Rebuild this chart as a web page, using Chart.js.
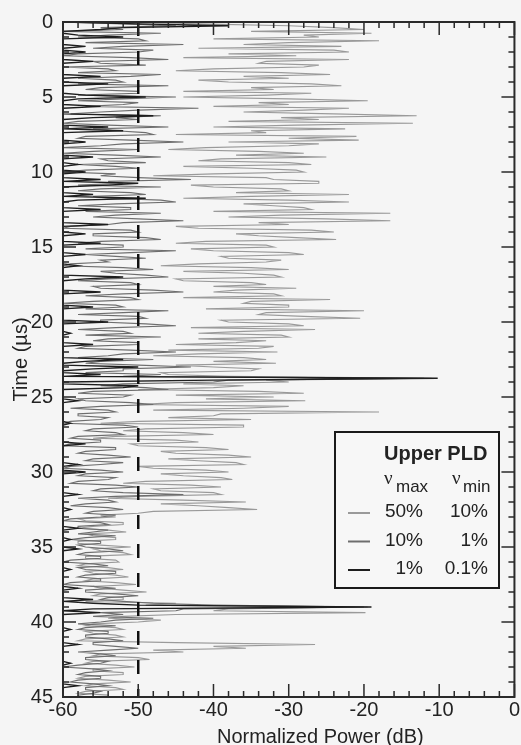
<!DOCTYPE html>
<html>
<head>
<meta charset="utf-8">
<script src="https://cdn.jsdelivr.net/npm/chart.js@4"></script>
<style>
  html, body { margin: 0; padding: 0; background: #f5f5f5; }
  #wrap { width: 521px; height: 745px; }
</style>
</head>
<body>
<div id="wrap"><canvas id="pldChart" width="521" height="745"></canvas></div>
<script>
// Czas (µs) - wspólny dla wszystkich trzech przebiegów (co 0.125 µs)
const times = [
  0, 0.125, 0.25, 0.375, 0.5, 0.625, 0.75, 0.875,
  1, 1.125, 1.25, 1.375, 1.5, 1.625, 1.75, 1.875,
  2, 2.125, 2.25, 2.375, 2.5, 2.625, 2.75, 2.875,
  3, 3.125, 3.25, 3.375, 3.5, 3.625, 3.75, 3.875,
  4, 4.125, 4.25, 4.375, 4.5, 4.625, 4.75, 4.875,
  5, 5.125, 5.25, 5.375, 5.5, 5.625, 5.75, 5.875,
  6, 6.125, 6.25, 6.375, 6.5, 6.625, 6.75, 6.875,
  7, 7.125, 7.25, 7.375, 7.5, 7.625, 7.75, 7.875,
  8, 8.125, 8.25, 8.375, 8.5, 8.625, 8.75, 8.875,
  9, 9.125, 9.25, 9.375, 9.5, 9.625, 9.75, 9.875,
  10, 10.125, 10.25, 10.375, 10.5, 10.625, 10.75, 10.875,
  11, 11.125, 11.25, 11.375, 11.5, 11.625, 11.75, 11.875,
  12, 12.125, 12.25, 12.375, 12.5, 12.625, 12.75, 12.875,
  13, 13.125, 13.25, 13.375, 13.5, 13.625, 13.75, 13.875,
  14, 14.125, 14.25, 14.375, 14.5, 14.625, 14.75, 14.875,
  15, 15.125, 15.25, 15.375, 15.5, 15.625, 15.75, 15.875,
  16, 16.125, 16.25, 16.375, 16.5, 16.625, 16.75, 16.875,
  17, 17.125, 17.25, 17.375, 17.5, 17.625, 17.75, 17.875,
  18, 18.125, 18.25, 18.375, 18.5, 18.625, 18.75, 18.875,
  19, 19.125, 19.25, 19.375, 19.5, 19.625, 19.75, 19.875,
  20, 20.125, 20.25, 20.375, 20.5, 20.625, 20.75, 20.875,
  21, 21.125, 21.25, 21.375, 21.5, 21.625, 21.75, 21.875,
  22, 22.125, 22.25, 22.375, 22.5, 22.625, 22.75, 22.875,
  23, 23.125, 23.25, 23.375, 23.5, 23.625, 23.75, 23.875,
  24, 24.125, 24.25, 24.375, 24.5, 24.625, 24.75, 24.875,
  25, 25.125, 25.25, 25.375, 25.5, 25.625, 25.75, 25.875,
  26, 26.125, 26.25, 26.375, 26.5, 26.625, 26.75, 26.875,
  27, 27.125, 27.25, 27.375, 27.5, 27.625, 27.75, 27.875,
  28, 28.125, 28.25, 28.375, 28.5, 28.625, 28.75, 28.875,
  29, 29.125, 29.25, 29.375, 29.5, 29.625, 29.75, 29.875,
  30, 30.125, 30.25, 30.375, 30.5, 30.625, 30.75, 30.875,
  31, 31.125, 31.25, 31.375, 31.5, 31.625, 31.75, 31.875,
  32, 32.125, 32.25, 32.375, 32.5, 32.625, 32.75, 32.875,
  33, 33.125, 33.25, 33.375, 33.5, 33.625, 33.75, 33.875,
  34, 34.125, 34.25, 34.375, 34.5, 34.625, 34.75, 34.875,
  35, 35.125, 35.25, 35.375, 35.5, 35.625, 35.75, 35.875,
  36, 36.125, 36.25, 36.375, 36.5, 36.625, 36.75, 36.875,
  37, 37.125, 37.25, 37.375, 37.5, 37.625, 37.75, 37.875,
  38, 38.125, 38.25, 38.375, 38.5, 38.625, 38.75, 38.875,
  39, 39.125, 39.25, 39.375, 39.5, 39.625, 39.75, 39.875,
  40, 40.125, 40.25, 40.375, 40.5, 40.625, 40.75, 40.875,
  41, 41.125, 41.25, 41.375, 41.5, 41.625, 41.75, 41.875,
  42, 42.125, 42.25, 42.375, 42.5, 42.625, 42.75, 42.875,
  43, 43.125, 43.25, 43.375, 43.5, 43.625, 43.75, 43.875,
  44, 44.125, 44.25, 44.375, 44.5, 44.625, 44.75, 44.875,
  45
];

// Moc znormalizowana (dB): vmax 50%, vmin 10%
const power50 = [
  -50, -42, -30, -24, -20, -35, -19, -28,
  -26, -40, -18, -30, -36, -23, -42, -24,
  -22, -38, -29, -44, -22, -33, -34, -26,
  -28, -40, -45, -31, -24.5, -36, -30, -42,
  -38, -27, -23, -35, -32, -44, -27, -33,
  -44, -30, -19.5, -34, -30, -40, -22, -28,
  -36, -24, -13, -31, -26, -38, -13.5, -29,
  -40, -22.5, -35, -33, -45, -21, -30, -20.7,
  -38, -26, -30, -41, -46, -34, -28, -37,
  -25, -39, -42, -30, -27, -44, -35, -29,
  -28, -40, -48, -33, -32, -26, -26, -43,
  -40, -31, -30, -37, -22, -35, -44, -30,
  -22, -36, -32, -28, -27, -40, -16.5, -31,
  -38, -25, -16.5, -34, -30, -45, -42, -27,
  -24, -37, -34, -29, -23.7, -41, -45, -33,
  -32, -43, -40, -30, -28, -39, -38, -31,
  -33, -42, -47, -35, -30, -44, -36, -32,
  -31, -45, -44, -35, -33, -40, -29, -37,
  -40, -32, -31, -44, -24.5, -35, -36, -30,
  -30, -41, -20, -33, -34, -28, -20.5, -39,
  -38, -30, -28, -43, -26.5, -36, -42, -31,
  -30, -42, -33, -37, -45, -32, -34, -46,
  -31.5, -42, -48, -36, -33, -40, -31.7, -45,
  -40, -34, -35, -47, -46, -38, -11, -33,
  -30, -44, -36, -40, -50, -34, -28, -45,
  -32, -41, -27.8, -45, -50, -30, -36, -48,
  -18, -39, -40, -46, -35, -50, -55, -36,
  -36, -49, -52, -44, -40, -53, -56, -45,
  -42, -51, -50, -41, -38, -47, -45, -38,
  -35, -46, -42, -37, -36, -50, -48, -41,
  -38, -47, -44, -39, -37.5, -49, -52, -43,
  -39, -48, -47, -40, -39, -50, -54, -44,
  -35.7, -47, -42, -38, -34.2, -48, -50, -55,
  -53, -58, -57, -52, -52, -56, -58, -54,
  -51.6, -57, -56, -53, -53, -58, -58, -55,
  -51, -56, -55, -52, -51, -57, -57, -53,
  -52.6, -57, -58, -54, -52, -57, -56, -53,
  -51.3, -56, -57, -53, -50.3, -56, -55, -52,
  -48.9, -55, -56, -52, -52, -57, -45, -49,
  -19.5, -38, -40, -19.8, -45, -52, -54, -47,
  -50, -56, -57, -53, -52, -57, -56, -53,
  -52, -57, -58, -45, -26.5, -40, -35.7, -48,
  -44, -55, -56, -50, -48.5, -56, -57, -53,
  -50.5, -56, -56, -52, -52, -57, -58, -54,
  -51, -56, -57, -53, -52, -57, -58, -54,
  -54
];

// vmax 10%, vmin 1%
const power10 = [
  -60, -52, -45, -55, -52, -60, -47, -54,
  -58, -50, -49, -57, -44, -52, -56, -48,
  -50, -58, -60, -51, -46, -56, -55, -49,
  -60, -54, -53, -58, -47, -51, -58, -53,
  -52, -58, -46, -55, -57, -50, -50, -58,
  -45, -52, -58, -50, -52, -57, -42, -50,
  -55, -59, -47, -53, -50, -58, -60, -54,
  -46, -56, -53, -49, -48, -57, -58, -51,
  -44, -52, -55, -60, -50, -56, -60, -53,
  -47, -55, -54, -49, -58, -53, -50, -57,
  -60, -53, -55, -50, -43, -54, -52, -58,
  -47, -55, -58, -51, -49, -56, -54, -47,
  -45, -53, -58, -51, -51, -57, -47, -53,
  -56, -50, -44, -52, -54, -59, -60, -51,
  -50, -56, -56, -49, -47, -55, -58, -52,
  -52, -57, -45, -51, -57, -53, -49, -55,
  -54, -59, -60, -52, -48, -55, -53, -49,
  -46, -54, -58, -51, -50, -56, -55, -48,
  -44, -52, -57, -51, -50, -56, -60, -53,
  -52, -57, -46, -52, -58, -50, -49, -55,
  -55, -49, -45, -53, -58, -52, -51, -57,
  -47, -54, -56, -50, -50, -57, -58, -51,
  -45, -52, -54, -58, -48, -55, -57, -50,
  -43, -52, -52, -57, -47, -52, -12, -38,
  -40, -52, -55, -49, -46, -56, -58, -51,
  -52, -58, -57, -51, -48, -55, -59, -54,
  -53, -58, -58, -54, -55, -59, -60, -52,
  -50, -56, -57, -53, -52, -58, -59, -55,
  -55, -59, -60, -53, -53, -57, -58, -54,
  -51, -56, -57, -52, -55, -59, -60, -55,
  -52, -57, -58, -53, -54, -58, -59, -53,
  -50, -55, -56, -52, -44, -53, -58, -54,
  -53, -57, -59, -54, -52, -56, -57, -53,
  -55, -59, -60, -55, -54, -58, -58, -54,
  -56, -58, -53, -57, -59, -55, -55, -58,
  -57, -54, -52, -57, -58, -55, -55, -59,
  -60, -56, -54, -58, -57, -53, -53, -57,
  -58, -55, -55, -59, -60, -56, -53, -57,
  -57, -53, -50, -54, -55, -52, -48, -40,
  -20, -44, -45, -55, -52, -56, -48, -53,
  -55, -58, -53, -57, -58, -54, -54, -57,
  -57, -54, -52, -56, -56, -53, -50, -54,
  -58, -55, -53, -57, -57, -54, -55, -58,
  -60, -56, -54, -57, -58, -55, -55, -58,
  -59, -56, -54, -57, -57, -55, -56, -58,
  -58
];

// vmax 1%, vmin 0.1%
const power1 = [
  -60, -50, -38, -52, -55, -60, -60, -58,
  -52, -60, -60, -60, -60, -57, -60, -60,
  -57, -60, -60, -60, -60, -56, -60, -60,
  -60, -60, -60, -60, -60, -55, -60, -60,
  -60, -54, -60, -60, -60, -60, -60, -57,
  -49, -58, -60, -60, -60, -55, -60, -60,
  -60, -60, -48, -56, -60, -60, -60, -60,
  -54, -60, -52, -60, -60, -60, -60, -60,
  -57, -60, -60, -60, -60, -60, -60, -60,
  -56, -60, -60, -60, -58, -60, -60, -60,
  -57, -60, -60, -60, -55, -60, -50, -54,
  -60, -60, -60, -60, -56, -60, -49, -58,
  -60, -60, -60, -60, -55, -60, -60, -60,
  -60, -60, -60, -60, -54, -60, -60, -60,
  -60, -57, -60, -60, -60, -60, -55, -60,
  -60, -60, -60, -60, -57, -60, -60, -60,
  -60, -60, -58, -60, -60, -60, -60, -60,
  -52, -57, -60, -60, -60, -60, -60, -60,
  -55, -60, -60, -60, -60, -60, -60, -60,
  -56, -60, -60, -60, -60, -60, -60, -60,
  -54, -60, -60, -60, -60, -60, -59, -60,
  -60, -60, -60, -60, -56, -60, -60, -60,
  -60, -60, -60, -60, -52, -57, -60, -60,
  -50, -56, -60, -60, -55, -60, -10.2, -40,
  -60, -60, -50, -52, -60, -60, -60, -60,
  -60, -60, -58, -60, -60, -60, -60, -60,
  -60, -60, -60, -60, -60, -60, -59, -60,
  -60, -60, -60, -60, -60, -60, -60, -60,
  -60, -57, -60, -60, -60, -60, -60, -60,
  -60, -60, -60, -60, -58, -60, -60, -60,
  -57, -60, -60, -60, -60, -60, -60, -60,
  -60, -60, -60, -60, -58, -60, -60, -60,
  -60, -60, -60, -60, -59, -60, -60, -60,
  -60, -60, -60, -60, -60, -60, -58, -60,
  -60, -60, -60, -60, -59, -60, -60, -60,
  -60, -58, -60, -60, -60, -60, -60, -60,
  -60, -60, -60, -60, -59, -60, -60, -60,
  -60, -60, -60, -60, -60, -60, -58, -60,
  -60, -60, -60, -60, -56, -60, -56, -50,
  -19, -56, -60, -55, -60, -60, -60, -60,
  -60, -60, -60, -60, -59, -60, -60, -60,
  -60, -60, -60, -60, -58, -60, -60, -60,
  -60, -60, -60, -60, -60, -60, -59, -60,
  -60, -60, -60, -60, -60, -60, -60, -60,
  -60, -60, -58, -60, -60, -60, -60, -60,
  -60
];

// Próg (linia przerywana) i zakres czasu
const thresholdPower = -50;
const timeRange = [0, 45];

const legendRows = [
  { vmax: '50%', vmin: '10%', color: '#9a9a9a' },
  { vmax: '10%', vmin: '1%', color: '#6e6e6e' },
  { vmax: '1%', vmin: '0.1%', color: '#1e1e1e' }
];

const FONT = '"Liberation Sans", Arial, sans-serif';
const INK = '#222';

function toPoints(powers) {
  return powers.map((p, i) => ({ x: p, y: times[i] }));
}

// Tło, ramka z podziałką do wewnątrz, tytuły osi i legenda
const framePlugin = {
  id: 'frame',
  beforeDraw(chart) {
    const c = chart.ctx;
    c.save();
    c.fillStyle = '#f5f5f5';
    c.fillRect(0, 0, chart.width, chart.height);
    c.restore();
  },
  afterDraw(chart) {
    const c = chart.ctx;
    const a = chart.chartArea;
    const xs = chart.scales.x;
    const ys = chart.scales.y;
    c.save();
    c.strokeStyle = '#2a2a2a';
    c.lineWidth = 1.5;
    // podziałka osi X co 2 dB
    for (let v = -60; v <= 0; v += 2) {
      const px = xs.getPixelForValue(v);
      const len = v % 10 === 0 ? 13 : 6;
      c.beginPath();
      c.moveTo(px, a.bottom); c.lineTo(px, a.bottom - len);
      c.moveTo(px, a.top); c.lineTo(px, a.top + len);
      c.stroke();
    }
    // podziałka osi Y co 1 µs
    for (let v = 0; v <= 45; v += 1) {
      const py = ys.getPixelForValue(v);
      const len = v % 5 === 0 ? 13 : 6;
      c.beginPath();
      c.moveTo(a.left, py); c.lineTo(a.left + len, py);
      c.moveTo(a.right, py); c.lineTo(a.right - len, py);
      c.stroke();
    }
    c.lineWidth = 2;
    c.strokeRect(a.left, a.top, a.right - a.left, a.bottom - a.top);

    // tytuły osi
    c.fillStyle = INK;
    c.font = '20px ' + FONT;
    c.textAlign = 'center';
    c.textBaseline = 'alphabetic';
    c.fillText('Normalized Power (dB)', a.left + (a.right - a.left) * 0.57, 743);
    c.save();
    c.translate(21, (a.top + a.bottom) / 2);
    c.rotate(-Math.PI / 2);
    c.textBaseline = 'middle';
    c.fillText('Time (\u00b5s)', 0, 0);
    c.restore();

    // legenda
    const bx = 335, by = 432, bw = 164, bh = 156;
    c.fillStyle = '#f7f7f7';
    c.fillRect(bx, by, bw, bh);
    c.strokeStyle = '#1a1a1a';
    c.lineWidth = 2;
    c.strokeRect(bx, by, bw, bh);

    c.fillStyle = INK;
    c.textAlign = 'left';
    c.font = 'bold 20px ' + FONT;
    c.fillText('Upper PLD', 384, 460);

    c.font = '19px "Liberation Serif", serif';
    c.fillText('\u03bd', 384, 484);
    c.fillText('\u03bd', 452, 484);
    c.font = '17px ' + FONT;
    c.fillText('max', 396, 492);
    c.fillText('min', 463, 492);

    c.font = '19px ' + FONT;
    c.textAlign = 'right';
    legendRows.forEach((row, i) => {
      const base = 517 + i * 28.5;
      c.strokeStyle = row.color;
      c.lineWidth = 2;
      c.beginPath();
      c.moveTo(348, base - 4); c.lineTo(370, base - 4);
      c.stroke();
      c.fillText(row.vmax, 423, base);
      c.fillText(row.vmin, 488, base);
    });
    c.restore();
  }
};

const ctx = document.getElementById('pldChart').getContext('2d');

const pldChart = new Chart(ctx, {
  type: 'scatter',
  data: {
    datasets: [
      {
        label: '1% / 0.1%',
        data: toPoints(power1),
        borderColor: legendRows[2].color,
        borderWidth: 1.4,
        order: 1
      },
      {
        label: '10% / 1%',
        data: toPoints(power10),
        borderColor: legendRows[1].color,
        borderWidth: 1.1,
        order: 2
      },
      {
        label: '50% / 10%',
        data: toPoints(power50),
        borderColor: legendRows[0].color,
        borderWidth: 1.1,
        order: 3
      },
      {
        label: 'threshold',
        data: timeRange.map(t => ({ x: thresholdPower, y: t })),
        borderColor: '#111',
        borderWidth: 2.5,
        borderDash: [14, 15],
        order: 0
      }
    ]
  },
  options: {
    responsive: false,
    animation: false,
    showLine: true,
    datasets: {
      scatter: { pointRadius: 0, pointHoverRadius: 0, tension: 0, fill: false }
    },
    layout: { padding: { top: 20, right: 4, left: 0, bottom: 0 } },
    plugins: {
      legend: { display: false },
      tooltip: { enabled: false }
    },
    scales: {
      x: {
        type: 'linear',
        min: -60,
        max: 0,
        grid: { display: false, drawTicks: false },
        border: { display: false },
        ticks: { stepSize: 10, padding: 1, color: INK, font: { size: 20, family: FONT } },
        afterFit(scale) { scale.height = 48; }
      },
      y: {
        type: 'linear',
        reverse: true,
        min: 0,
        max: 45,
        grid: { display: false, drawTicks: false },
        border: { display: false },
        ticks: { stepSize: 5, padding: 10, color: INK, font: { size: 20, family: FONT } },
        afterFit(scale) { scale.width = 63; }
      }
    }
  },
  plugins: [framePlugin]
});
</script>
</body>
</html>
